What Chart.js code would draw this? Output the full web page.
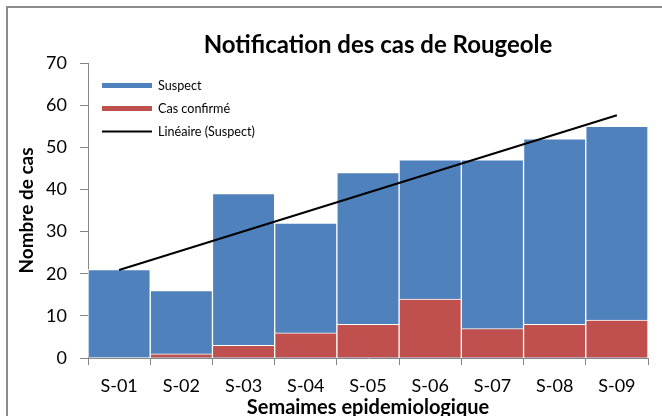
<!DOCTYPE html>
<html><head><meta charset="utf-8">
<script src="https://cdn.jsdelivr.net/npm/chart.js@4.4.0/dist/chart.umd.min.js"></script>
<style>html,body{margin:0;padding:0;background:#fff;}#wrap{width:662px;height:416px;position:relative;}</style>
</head><body><div id="wrap"><canvas id="c" width="662" height="416"></canvas></div>
<script>
const categories = ['S-01','S-02','S-03','S-04','S-05','S-06','S-07','S-08','S-09'];
const suspect = [21,16,39,32,44,47,47,52,55];
const confirmed = [0,1,3,6,8,14,7,8,9];
const trendSuspect = [20.9,null,null,null,null,null,null,null,57.6];
const yTicks = [0,10,20,30,40,50,60,70];
const chartTitle = 'Notification des cas de Rougeole';
const yTitle = 'Nombre de cas';
const xTitle = 'Semaimes epidemiologique';
const seriesLabels = ['Suspect','Cas confirmé','Linéaire (Suspect)'];

const FONT = "Lato, 'Open Sans', sans-serif";
const BLUE = '#4F81BD', RED = '#C0504D', AXIS = '#868686';

const decor = {
  id: 'decor',
  beforeDraw(chart) {
    const ctx = chart.ctx;
    ctx.save();
    ctx.fillStyle = '#fff';
    ctx.fillRect(0, 0, chart.width, chart.height);
    ctx.strokeStyle = '#8c8c8c';
    ctx.lineWidth = 2;
    ctx.strokeRect(7, 7, chart.width + 20, chart.height + 20);
    ctx.restore();
  },
  afterDraw(chart) {
    const ctx = chart.ctx;
    ctx.save();
    ctx.fillStyle = '#000';
    ctx.font = 'bold 24px ' + FONT;
    ctx.textAlign = 'center';
    ctx.textBaseline = 'middle';
    ctx.fillText(chartTitle, 378, 45);
    const items = [
      {c: BLUE, h: 5, y: 85.5},
      {c: RED, h: 5, y: 108.5},
      {c: '#000', h: 2, y: 131.5}
    ];
    ctx.font = '12.6px ' + FONT;
    ctx.textAlign = 'left';
    items.forEach((it, i) => {
      ctx.fillStyle = it.c;
      ctx.fillRect(102, it.y - it.h / 2, 50, it.h);
      ctx.fillStyle = '#000';
      ctx.fillText(seriesLabels[i], 158, it.y);
    });
    ctx.restore();
  }
};

new Chart(document.getElementById('c'), {
  data: {
    labels: categories,
    datasets: [
      {type: 'line', label: seriesLabels[2], data: trendSuspect, spanGaps: true,
       borderColor: '#000', borderWidth: 2, pointRadius: 0, order: 0, fill: false},
      {type: 'bar', label: seriesLabels[1], data: confirmed, backgroundColor: RED,
       borderColor: '#fff', borderWidth: 1, grouped: false, order: 1,
       barPercentage: 1, categoryPercentage: 1},
      {type: 'bar', label: seriesLabels[0], data: suspect, backgroundColor: BLUE,
       borderColor: '#fff', borderWidth: 1, grouped: false, order: 2,
       barPercentage: 1, categoryPercentage: 1}
    ]
  },
  options: {
    responsive: false,
    animation: false,
    devicePixelRatio: 1,
    layout: {padding: {top: 63, right: 14, left: 0, bottom: 0}},
    plugins: {legend: {display: false}, title: {display: false}, tooltip: {enabled: false}},
    scales: {
      x: {
        type: 'category',
        afterFit(s) { s.height = 58; },
        grid: {drawOnChartArea: false, tickLength: 7, color: AXIS, offset: true},
        border: {color: AXIS, width: 1},
        ticks: {color: '#000', font: {family: FONT, size: 18}, padding: 10, maxRotation: 0},
        title: {display: true, text: xTitle, color: '#000', font: {family: FONT, size: 20, weight: 'bold'}, padding: {top: 0, bottom: -4}}
      },
      y: {
        min: 0, max: 70,
        afterFit(s) { s.width = 88; },
        afterBuildTicks(s) { s.ticks = yTicks.map(v => ({value: v})); },
        grid: {drawOnChartArea: false, tickLength: 8, color: AXIS},
        border: {color: AXIS, width: 1},
        ticks: {color: '#000', font: {family: FONT, size: 18}, padding: 13},
        title: {display: true, text: yTitle, color: '#000', font: {family: FONT, size: 19, weight: 'bold'}, padding: {top: 15, bottom: 0}}
      }
    }
  },
  plugins: [decor]
});
</script></body></html>
